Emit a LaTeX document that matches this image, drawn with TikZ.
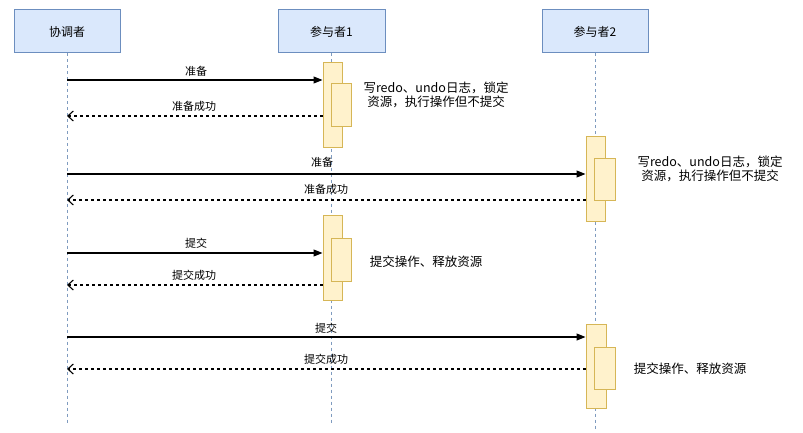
\documentclass[tikz,border=0pt]{standalone}
\usepackage{fontspec}
\setmainfont{Noto Sans CJK SC}
\usetikzlibrary{arrows.meta}
\definecolor{hdrfill}{HTML}{DAE8FC}
\definecolor{hdrline}{HTML}{6C8EBF}
\definecolor{actfill}{HTML}{FFF2CC}
\definecolor{actline}{HTML}{D6B656}
\definecolor{lifeln}{HTML}{7F9BBF}
\tikzset{
  hdr/.style={draw=hdrline, fill=hdrfill, line width=1pt, minimum width=106pt, minimum height=43pt, inner sep=0pt, font=\fontsize{12}{14}\selectfont},
  lifeline/.style={draw=lifeln, dash pattern=on 3pt off 3pt, line width=0.9pt},
  act/.style={draw=actline, fill=actfill, line width=1pt, inner sep=0pt, minimum width=19pt},
  msg/.style={draw=black, line width=1.1pt, -{Triangle[length=9pt,width=7pt]}},
  ret/.style={draw=black, line width=1.1pt, dash pattern=on 3pt off 3pt, -{Straight Barb[length=5.5pt,width=10pt,line width=1.1pt]}},
  lbl/.style={font=\fontsize{11}{13}\selectfont, inner sep=0pt},
  note/.style={font=\fontsize{12.5}{14.5}\selectfont, inner sep=0pt, align=center},
}
\begin{document}
\begin{tikzpicture}[x=1pt,y=-1pt]
\useasboundingbox (0,0) rectangle (803,433);
% headers
\node[hdr] (H0) at (67,31.5) {协调者};
\node[hdr, minimum width=107pt] (H1) at (331.5,31.5) {参与者1};
\node[hdr] (H2) at (595,31.5) {参与者2};
% lifeline ends
\coordinate (E0) at (67,423);
\coordinate (E1) at (331.5,423);
\coordinate (E2) at (595,430);
\draw[lifeline] (H0.south) -- (E0);
\draw[lifeline] (H1.south) -- (E1);
\draw[lifeline] (H2.south) -- (E2);
% activations
\node[act, minimum height=85pt] (A1) at (332.5,105.5) {};
\node[act, minimum width=20pt, minimum height=43pt] (A1b) at (341,105.5) {};
\node[act, minimum height=84pt] (A2) at (595.5,179) {};
\node[act, minimum width=21pt, minimum height=42pt] (A2b) at (604.5,179) {};
\node[act, minimum height=85pt] (A3) at (332.5,257.5) {};
\node[act, minimum width=20pt, minimum height=43pt] (A3b) at (341,259.5) {};
\node[act, minimum width=20pt, minimum height=84pt] (A4) at (596,366) {};
\node[act, minimum width=21pt, minimum height=42pt] (A4b) at (604.5,368) {};
% messages
\draw[msg] (H0.south |- 0,80) -- (A1.west |- 0,80);
\node[lbl] (l1) at (196,71) {准备};
\draw[ret] (A1.west |- 0,116) -- (H0.south |- 0,116);
\node[lbl] (l2) at (194,106) {准备成功};
\draw[msg] (H0.south |- 0,174) -- (A2.west |- 0,174);
\node[lbl] (l3) at (322,162) {准备};
\draw[ret] (A2.west |- 0,200) -- (H0.south |- 0,200);
\node[lbl] (l4) at (326,189) {准备成功};
\draw[msg] (H0.south |- 0,253) -- (A3.west |- 0,253);
\node[lbl] (l5) at (196,243) {提交};
\draw[ret] (A3.west |- 0,285) -- (H0.south |- 0,285);
\node[lbl] (l6) at (194,275) {提交成功};
\draw[msg] (H0.south |- 0,337) -- (A4.west |- 0,337);
\node[lbl] (l7) at (326,328) {提交};
\draw[ret] (A4.west |- 0,369) -- (H0.south |- 0,369);
\node[lbl] (l8) at (326,359) {提交成功};
% notes
\node[note] (n1) at (436,95) {写redo、undo日志，锁定\\资源，执行操作但不提交};
\node[note] (n2) at (710,169) {写redo、undo日志，锁定\\资源，执行操作但不提交};
\node[note] (n3) at (426,262) {提交操作、释放资源};
\node[note] (n4) at (690,369) {提交操作、释放资源};
\end{tikzpicture}
\end{document}
